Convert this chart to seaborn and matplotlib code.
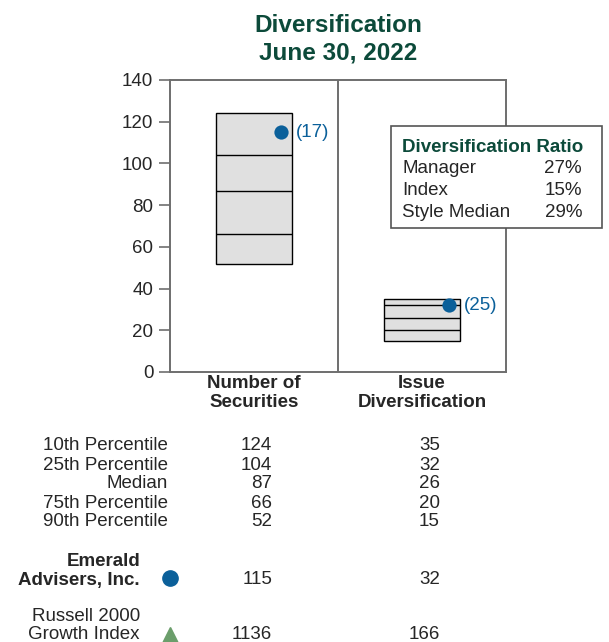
import matplotlib
matplotlib.use("Agg")
import matplotlib.pyplot as plt
from matplotlib.patches import Rectangle
import seaborn as sns
import pandas as pd

# ---- data -------------------------------------------------------------
categories = ["Number of\nSecurities", "Issue\nDiversification"]
pct_labels = ["10th Percentile", "25th Percentile", "Median",
              "75th Percentile", "90th Percentile"]
p10 = [124, 35]
p25 = [104, 32]
median = [87, 26]
p75 = [66, 20]
p90 = [52, 15]
manager = [115, 32]
manager_rank = [17, 25]
index_vals = [1136, 166]
ratio_labels = ["Manager", "Index", "Style Median"]
ratio_values = ["27%", "15%", "29%"]
y_ticks = [0, 20, 40, 60, 80, 100, 120, 140]

# ---- style ------------------------------------------------------------
sns.set_style("white")
plt.rcParams["font.family"] = ["Liberation Sans", "DejaVu Sans"]

GREEN_DARK = "#0c4a3a"
BLUE = "#0b609a"
TRI_GREEN = "#6b9e6b"
FRAME = "#6e6e6e"
BOX_FILL = "#e0e0e0"
FS = 13.5

W, H = 609, 642
fig = plt.figure(figsize=(W / 100, H / 100), dpi=100)


def fx(x):
    return x / W


def fy(y):
    return 1 - y / H


ax = fig.add_axes([fx(170), fy(372), (506 - 170) / W, (372 - 80) / H])

# floating boxes spanning 90th..10th percentile
xs = [0.5, 1.5]
bw = 0.455
ax.bar(xs, [a - b for a, b in zip(p10, p90)], bottom=p90, width=bw,
       color=BOX_FILL, edgecolor="black", linewidth=1.0, zorder=2)
for q in (p25, median, p75):
    ax.hlines(q, [x - bw / 2 for x in xs], [x + bw / 2 for x in xs],
              color="black", linewidth=1.0, zorder=3)

# manager points
mgr = pd.DataFrame({"x": [x + 0.16 for x in xs], "y": manager})
sns.scatterplot(data=mgr, x="x", y="y", ax=ax, s=105, color=BLUE,
                edgecolor=BLUE, linewidth=0, zorder=4, legend=False)
for x, y, r in zip(mgr["x"], mgr["y"], manager_rank):
    ax.annotate(f"({r})", (x, y), xytext=(11, 0), textcoords="offset points",
                va="center", ha="left", color=BLUE, fontsize=FS)

ax.axvline(1, color=FRAME, linewidth=1.4, zorder=1)
ax.set_xlim(0, 2)
ax.set_ylim(0, 140)
ax.set_yticks(y_ticks)
ax.set_yticklabels([str(t) for t in y_ticks], fontsize=FS)
ax.set_xticks(xs)
ax.set_xticklabels(categories, fontsize=FS, fontweight="bold", linespacing=1.08)
ax.tick_params(axis="x", length=0, pad=2.5)
ax.tick_params(axis="y", length=8, width=1.2, color=FRAME, direction="out",
               pad=4, left=True)
ax.set_xlabel("")
ax.set_ylabel("")
for s in ax.spines.values():
    s.set_color(FRAME)
    s.set_linewidth(1.4)

# title
fig.text(fx(338), fy(32), "Diversification", ha="center", va="baseline",
         fontsize=17.5, fontweight="bold", color=GREEN_DARK)
fig.text(fx(338), fy(59.5), "June 30, 2022", ha="center", va="baseline",
         fontsize=17.5, fontweight="bold", color=GREEN_DARK)

# ratio box
fig.patches.append(Rectangle((fx(391), fy(228)), (602 - 391) / W, (228 - 126) / H,
                             transform=fig.transFigure, facecolor="white",
                             edgecolor="#555555", linewidth=1.2, zorder=5))
fig.text(fx(402), fy(152), "Diversification Ratio", ha="left", va="baseline",
         fontsize=FS, fontweight="bold", color=GREEN_DARK, zorder=6)
for i, (lab, val) in enumerate(zip(ratio_labels, ratio_values)):
    yb = 173 + 22 * i
    fig.text(fx(402), fy(yb), lab, ha="left", va="baseline", fontsize=FS, zorder=6)
    fig.text(fx(582), fy(yb), val, ha="right", va="baseline", fontsize=FS, zorder=6)

# percentile table
col_x = [272, 440]
pct_rows = [p10, p25, median, p75, p90]
for i, (lab, row) in enumerate(zip(pct_labels, pct_rows)):
    yb = 450.5 + 19 * i
    fig.text(fx(168), fy(yb), lab, ha="right", va="baseline", fontsize=FS)
    for cx, v in zip(col_x, row):
        fig.text(fx(cx), fy(yb), str(v), ha="right", va="baseline", fontsize=FS)

# manager row
fig.text(fx(140), fy(565.5), "Emerald", ha="right", va="baseline",
         fontsize=FS, fontweight="bold")
fig.text(fx(140), fy(584.5), "Advisers, Inc.", ha="right", va="baseline",
         fontsize=FS, fontweight="bold")
fig.lines.append(plt.Line2D([fx(170)], [fy(578)], marker="o", markersize=11,
                            color=BLUE, linestyle="none",
                            transform=fig.transFigure))
for cx, v in zip(col_x, manager):
    fig.text(fx(cx), fy(584.5), str(v), ha="right", va="baseline", fontsize=FS)

# index row
fig.text(fx(140), fy(621), "Russell 2000", ha="right", va="baseline", fontsize=FS)
fig.text(fx(140), fy(639), "Growth Index", ha="right", va="baseline", fontsize=FS)
fig.lines.append(plt.Line2D([fx(170)], [fy(635)], marker="^", markersize=11,
                            color=TRI_GREEN, linestyle="none",
                            transform=fig.transFigure))
for cx, v in zip(col_x, index_vals):
    fig.text(fx(cx), fy(639), str(v), ha="right", va="baseline", fontsize=FS)

fig.savefig("out.png", dpi=100)
